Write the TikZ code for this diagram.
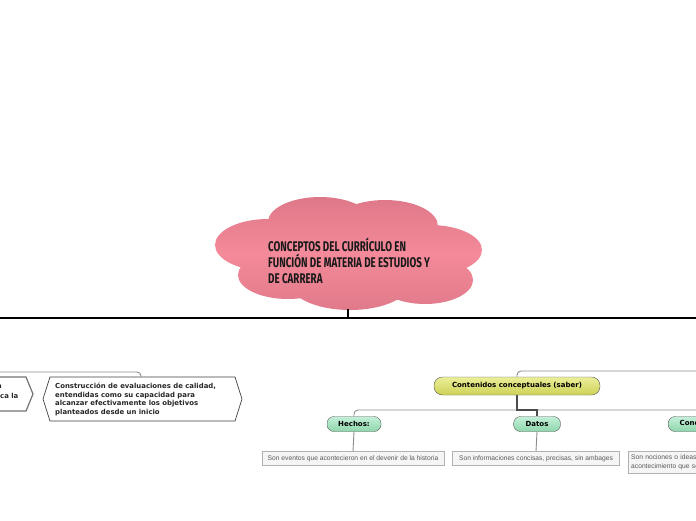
\documentclass[tikz,border=0pt]{standalone}
\usepackage{fontspec}
\setmainfont{DejaVu Sans}
\newfontfamily\titlefont{Fira Sans}[FakeStretch=0.7]
\newfontfamily\smallfont{Liberation Sans}
\definecolor{ytop}{HTML}{ECEE9A}
\definecolor{ybot}{HTML}{CDD255}
\definecolor{gtop}{HTML}{C4F0D8}
\definecolor{gbot}{HTML}{8ED6AC}
\definecolor{cloudpink}{HTML}{F48A9A}
\definecolor{clouddark}{HTML}{DE7888}
\begin{document}
\begin{tikzpicture}[x=1pt,y=-1pt,
  greyline/.style={draw=black!45,line width=0.9pt},
  darkline/.style={draw=black!70,line width=1.2pt},
  mainline/.style={draw=black,line width=2pt},
  hexbox/.style={draw=black!75,fill=white,line width=0.7pt},
  hextext/.style={font=\fontsize{6.9}{8.6}\selectfont\bfseries,text=black!85,align=left,inner sep=0pt},
  yellowbox/.style={draw=black!65,rounded corners=8.5pt,minimum width=166pt,minimum height=18pt,inner sep=0pt,
     top color=ytop,bottom color=ybot,font=\fontsize{7}{8}\selectfont\bfseries},
  greenbox/.style={draw=black!65,rounded corners=7pt,minimum height=15pt,inner sep=0pt,
     top color=gtop,bottom color=gbot,font=\fontsize{7}{8}\selectfont\bfseries},
  descbox/.style={draw=black!30,fill=black!4,inner sep=0pt,minimum height=14pt,text=black!65,
     font=\smallfont\fontsize{6.7}{8.8}\selectfont},
]
\useasboundingbox (0,0) rectangle (696,520);
\clip (0,0) rectangle (696,520);
% cloud
\shade[top color=clouddark,bottom color=clouddark!90!cloudpink,middle color=cloudpink]
  (320,222) ellipse [x radius=52,y radius=25]
  (385,226) ellipse [x radius=53,y radius=26]
  (268,245) ellipse [x radius=53,y radius=26]
  (430,250) ellipse [x radius=52,y radius=25]
  (288,275) ellipse [x radius=50,y radius=24]
  (350,283) ellipse [x radius=60,y radius=27]
  (425,280) ellipse [x radius=48,y radius=24]
  (350,252) ellipse [x radius=95,y radius=35];
\node[anchor=north west,align=left,inner sep=0pt,font=\titlefont\bfseries\fontsize{14}{16}\selectfont,text=black!90]
  (title) at (268,238) {CONCEPTOS DEL CURRÍCULO EN\\FUNCIÓN DE MATERIA DE ESTUDIOS Y\\DE CARRERA};
\coordinate (cloudbot) at (348,309);
\coordinate (mainL) at (0,318);
\coordinate (mainR) at (696,318);
\coordinate (mainJ) at (348,318);
\draw[mainline] (mainL) -- (mainR);
\draw[mainline] (cloudbot) -- (mainJ);
% left branch
\draw[hexbox,draw=black!55,line width=1.2pt] (-20,377) -- (26,377) -- (33,394) -- (26,411) -- (-20,411);
\node[hextext,anchor=base west] (h1a) at (-3,388) {a};
\node[hextext,anchor=base west] (h1b) at (0,398) {ca la};
\draw[hexbox] (43,399) -- (50,377) -- (235,377) -- (242,399) -- (235,421) -- (50,421) -- cycle;
\node[hextext,anchor=north west] (h2) at (55,383)
  {Construcción de evaluaciones de calidad,\\entendidas como su capacidad para\\alcanzar efectivamente los objetivos\\planteados desde un inicio};
\coordinate (h2top) at (141,377);
\coordinate (leftin) at (0,372);
\draw[greyline,rounded corners=4pt] (leftin) -- (141,372) -- (h2top);
% right branch
\node[yellowbox] (cc) at (517,386) {Contenidos conceptuales (saber)};
\coordinate (rightin) at (696,371);
\draw[greyline,rounded corners=4pt] (rightin) -- (517,371) -- (cc.north);
\node[greenbox,minimum width=54pt] (hechos) at (354,424) {Hechos:};
\node[greenbox,minimum width=47pt] (datos) at (537,424) {Datos};
\node[greenbox,minimum width=64pt,anchor=west] (conc) at (668,424) {Conceptos};
\coordinate (bar) at (517,410);
\draw[greyline,rounded corners=4pt] (hechos.north) -- (354,410) -- (720,410);
\draw[greyline] (datos.north) -- (537,410);
\draw[darkline] (cc.south) -- (bar) -- (537,410) -- (datos.north);
\node[descbox,minimum width=182pt] (hd) at (353,458.5) {Son eventos que acontecieron en el devenir de la historia};
\node[descbox,minimum width=167pt] (dd) at (536,458.5) {Son informaciones concisas, precisas, sin ambages};
\node[descbox,minimum width=120pt,minimum height=22pt,anchor=north west,align=left,text width=116pt,inner xsep=3pt] (cd) at (628,451)
  {Son nociones o ideas que\\acontecimiento que se};
\draw[greyline] (hechos.south) -- (hd.north);
\draw[greyline] (datos.south) -- (dd.north);
\end{tikzpicture}
\end{document}
